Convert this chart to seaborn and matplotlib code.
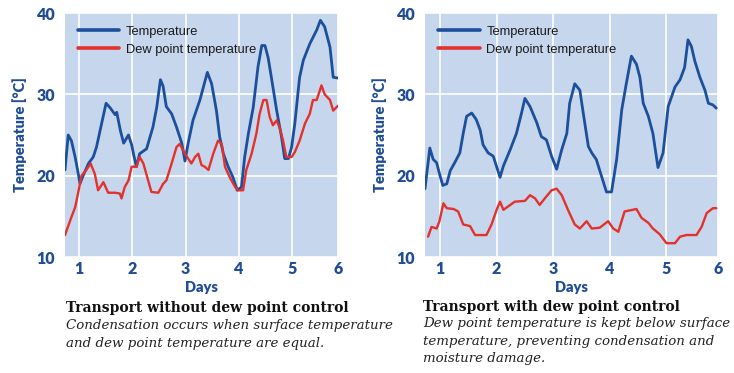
import matplotlib
matplotlib.use("Agg")
import matplotlib.pyplot as plt
import seaborn as sns
import pandas as pd

# ---------------- data ----------------
left_temp_days = [0.74, 0.80, 0.86, 0.93, 0.99, 1.02, 1.08, 1.18, 1.27, 1.33, 1.43, 1.51,
                  1.58, 1.68, 1.71, 1.78, 1.84, 1.93, 1.99, 2.03, 2.08, 2.14, 2.27, 2.39,
                  2.46, 2.53, 2.58, 2.64, 2.74, 2.83, 2.93, 2.99, 3.05, 3.14, 3.27, 3.41,
                  3.49, 3.58, 3.64, 3.71, 3.80, 3.89, 3.97, 4.05, 4.11, 4.18, 4.27, 4.36,
                  4.43, 4.49, 4.55, 4.61, 4.71, 4.80, 4.86, 4.93, 4.99, 5.05, 5.14, 5.21,
                  5.33, 5.46, 5.53, 5.61, 5.71, 5.77, 5.86]
left_temp = [20.7, 25.0, 24.3, 22.3, 20.2, 19.0, 20.0, 21.5, 22.3, 23.5, 26.5, 28.9,
             28.4, 27.5, 27.8, 25.5, 24.0, 25.0, 23.8, 22.5, 21.1, 22.7, 23.3, 26.0,
             28.4, 31.8, 31.0, 28.5, 27.6, 26.0, 24.0, 21.8, 24.0, 26.8, 29.3, 32.7,
             31.3, 28.0, 24.8, 22.7, 21.1, 19.8, 18.2, 18.6, 22.3, 25.2, 28.4, 33.4,
             36.0, 36.0, 34.5, 32.1, 28.0, 24.8, 22.1, 22.1, 23.5, 26.4, 32.1, 34.2,
             36.2, 37.9, 39.1, 38.3, 35.8, 32.1, 32.0]

left_dew_days = [0.74, 0.86, 0.93, 0.99, 1.05, 1.14, 1.22, 1.30, 1.36, 1.46, 1.55, 1.68,
                 1.77, 1.80, 1.86, 1.93, 1.99, 2.08, 2.14, 2.21, 2.30, 2.36, 2.49, 2.58,
                 2.64, 2.74, 2.83, 2.89, 2.99, 3.11, 3.18, 3.24, 3.30, 3.36, 3.43, 3.52,
                 3.61, 3.68, 3.74, 3.83, 3.93, 3.99, 4.08, 4.14, 4.24, 4.33, 4.39, 4.46,
                 4.52, 4.58, 4.64, 4.71, 4.77, 4.83, 4.89, 4.99, 5.05, 5.14, 5.24, 5.33,
                 5.39, 5.46, 5.55, 5.61, 5.71, 5.77, 5.86]
left_dew = [12.7, 14.9, 16.1, 18.0, 20.0, 20.7, 21.5, 20.2, 18.2, 19.2, 17.9, 17.9,
            17.8, 17.2, 18.6, 19.4, 21.1, 21.1, 22.3, 21.5, 19.4, 18.0, 17.9, 19.0,
            19.4, 21.5, 23.5, 23.9, 22.7, 21.5, 22.3, 22.7, 21.3, 21.1, 20.7, 22.7,
            24.3, 23.9, 21.1, 19.8, 18.6, 18.2, 18.2, 20.7, 22.7, 25.2, 27.6, 29.3,
            29.3, 27.2, 26.2, 26.8, 25.8, 24.3, 22.3, 22.3, 22.9, 24.3, 26.4, 27.6,
            29.3, 29.3, 31.1, 30.0, 29.3, 28.0, 28.6]

right_temp_days = [0.735, 0.82, 0.88, 0.94, 1.00, 1.05, 1.12, 1.18, 1.26, 1.35, 1.41, 1.47,
                   1.56, 1.64, 1.71, 1.76, 1.85, 1.94, 2.06, 2.12, 2.24, 2.35, 2.44, 2.50,
                   2.59, 2.71, 2.79, 2.88, 2.97, 3.06, 3.15, 3.24, 3.29, 3.38, 3.47, 3.53,
                   3.62, 3.68, 3.76, 3.85, 3.94, 4.03, 4.12, 4.21, 4.29, 4.38, 4.47, 4.53,
                   4.59, 4.68, 4.76, 4.85, 4.94, 5.03, 5.09, 5.15, 5.24, 5.32, 5.38, 5.44,
                   5.50, 5.59, 5.68, 5.74, 5.82, 5.88]
right_temp = [18.4, 23.4, 22.0, 21.6, 20.0, 18.8, 19.0, 20.6, 21.6, 22.8, 25.2, 27.3,
              27.7, 26.9, 25.6, 23.8, 22.8, 22.4, 19.8, 21.2, 23.2, 25.2, 27.7, 29.5,
              28.5, 26.5, 24.8, 24.4, 22.4, 20.8, 23.2, 25.2, 28.9, 31.3, 30.5, 27.7,
              23.6, 22.8, 22.0, 20.0, 18.0, 18.0, 22.0, 28.1, 31.3, 34.7, 33.7, 32.1,
              28.9, 27.3, 25.2, 21.0, 22.8, 28.5, 29.7, 30.9, 31.8, 33.3, 36.7, 35.9,
              34.1, 32.1, 30.5, 28.9, 28.7, 28.3]

right_dew_days = [0.79, 0.85, 0.94, 0.99, 1.06, 1.12, 1.24, 1.32, 1.41, 1.53, 1.62, 1.82,
                  1.91, 2.00, 2.06, 2.12, 2.32, 2.50, 2.59, 2.68, 2.76, 2.85, 2.97, 3.06,
                  3.15, 3.26, 3.38, 3.47, 3.59, 3.68, 3.82, 3.97, 4.06, 4.15, 4.26, 4.47,
                  4.56, 4.68, 4.76, 4.88, 5.00, 5.15, 5.24, 5.35, 5.53, 5.62, 5.71, 5.82,
                  5.88]
right_dew = [12.5, 13.7, 13.5, 14.4, 16.6, 16.0, 15.9, 15.6, 14.0, 13.8, 12.7, 12.7,
             14.0, 15.8, 16.8, 15.8, 16.8, 16.9, 17.6, 17.2, 16.4, 17.2, 18.2, 18.4,
             17.6, 15.8, 14.0, 13.5, 14.4, 13.5, 13.6, 14.4, 13.5, 13.1, 15.6, 15.9,
             14.8, 14.2, 13.5, 12.8, 11.7, 11.7, 12.5, 12.7, 12.7, 13.7, 15.4, 16.0,
             16.0]

tick_labels = ["1", "2", "3", "4", "5", "6"]
y_ticks = [10, 20, 30, 40]
series_names = ["Temperature", "Dew point temperature"]
titles = ["Transport without dew point control", "Transport with dew point control"]
captions = ["Condensation occurs when surface temperature\nand dew point temperature are equal.",
            "Dew point temperature is kept below surface\ntemperature, preventing condensation and\nmoisture damage."]

# ---------------- style ----------------
BLUE = "#1c4f9c"
RED = "#e3312b"
BG = "#c6d6ec"
LABEL = "#1f4d96"

sns.set_theme(style="whitegrid")
plt.rcParams["font.family"] = ["Lato", "DejaVu Sans"]

fig = plt.figure(figsize=(7.34, 3.73), dpi=100)
W, H = 734, 373

def make_ax(x0, x1, y0, y1):
    return fig.add_axes([x0 / W, 1 - y1 / H, (x1 - x0) / W, (y1 - y0) / H])

panels = [
    dict(ax=make_ax(65, 338, 13, 257), xlim=(0.74, 5.86),
         t=(left_temp_days, left_temp), d=(left_dew_days, left_dew)),
    dict(ax=make_ax(425, 718, 13, 257), xlim=(0.735, 5.91),
         t=(right_temp_days, right_temp), d=(right_dew_days, right_dew)),
]

for p in panels:
    ax = p["ax"]
    ax.set_facecolor(BG)
    dft = pd.DataFrame({"day": p["t"][0], "val": p["t"][1]})
    dfd = pd.DataFrame({"day": p["d"][0], "val": p["d"][1]})
    sns.lineplot(data=dft, x="day", y="val", ax=ax, color=BLUE, linewidth=2.0,
                 label=series_names[0])
    sns.lineplot(data=dfd, x="day", y="val", ax=ax, color=RED, linewidth=1.7,
                 label=series_names[1])
    ax.set_xlim(*p["xlim"])
    ax.set_ylim(10, 40)
    xt = [1, 2, 3, 4, 5, p["xlim"][1]]
    ax.set_xticks(xt)
    ax.set_xticklabels(tick_labels)
    ax.set_yticks(y_ticks)
    ax.grid(True, color="white", linewidth=1.2)
    for s in ax.spines.values():
        s.set_visible(False)
    ax.tick_params(axis="both", length=0, labelsize=11.5, labelcolor=LABEL)
    ax.tick_params(axis="y", pad=7)
    ax.tick_params(axis="x", pad=3)
    for lab in ax.get_xticklabels() + ax.get_yticklabels():
        lab.set_fontweight("heavy")
    ax.set_xlabel("Days", fontsize=10.5, fontweight="heavy", color=LABEL, labelpad=3)
    ax.set_ylabel("Temperature [°C]", fontsize=10.5, fontweight="heavy", color=LABEL,
                  labelpad=7)
    leg = ax.legend(loc="upper left", frameon=False, handlelength=3.2,
                    prop={"family": "Liberation Sans", "size": 9.3},
                    bbox_to_anchor=(0.015, 0.985),
                    borderaxespad=0.3, labelspacing=0.45, handletextpad=0.5)
    for line in leg.get_lines():
        line.set_linewidth(2.6)
    for t in leg.get_texts():
        t.set_color("#1a1a1a")

serif = ["DejaVu Serif"]
fig.text(66 / W, 1 - 308 / H, titles[0], ha="left", va="center", fontsize=10,
         fontweight="bold", family=serif, color="#111111")
fig.text(66 / W, 1 - 319 / H, captions[0], ha="left", va="top", fontsize=9.6,
         style="italic", family=serif, color="#222222", linespacing=1.45)
fig.text(423 / W, 1 - 307 / H, titles[1], ha="left", va="center", fontsize=10,
         fontweight="bold", family=serif, color="#111111")
fig.text(423 / W, 1 - 317 / H, captions[1], ha="left", va="top", fontsize=9.6,
         style="italic", family=serif, color="#222222", linespacing=1.45)

fig.savefig("out.png", dpi=100, facecolor="white")
